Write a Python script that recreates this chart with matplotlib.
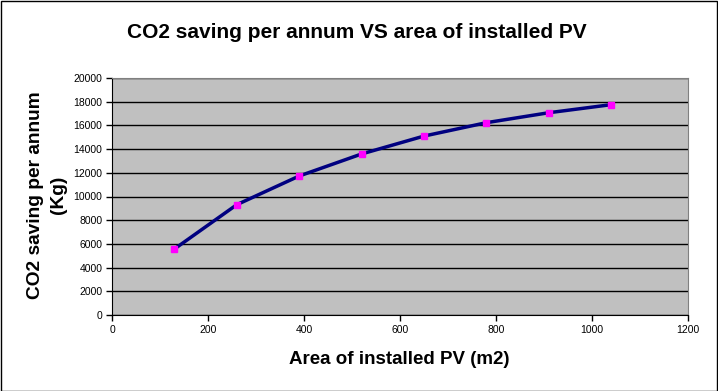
import matplotlib
matplotlib.use("Agg")
import matplotlib.pyplot as plt
from matplotlib.patches import Rectangle

area_m2 = [130, 260, 390, 520, 650, 780, 910, 1040]
co2_saving_kg = [5570, 9310, 11730, 13590, 15100, 16230, 17070, 17750]
x_ticks = [0, 200, 400, 600, 800, 1000, 1200]
y_ticks = list(range(0, 20001, 2000))

plt.rcParams['font.family'] = ['Liberation Sans', 'DejaVu Sans']

fig = plt.figure(figsize=(7.18, 3.91), dpi=100)
W, H = 718, 391
left, right, top, bottom = 112, 688, 78, 315
ax = fig.add_axes([left / W, 1 - bottom / H, (right - left) / W, (bottom - top) / H])
ax.set_facecolor('#C0C0C0')
ax.set_xlim(0, 1200)
ax.set_ylim(0, 20000)
ax.set_xticks(x_ticks)
ax.set_yticks(y_ticks)
ax.tick_params(axis='both', labelsize=7.5, direction='out', length=4, width=1, color='black', pad=3)
ax.yaxis.grid(True, color='black', linewidth=1)
ax.set_axisbelow(True)
for s in ['top', 'right']:
    ax.spines[s].set_color('#808080')
for s in ['left', 'bottom']:
    ax.spines[s].set_color('black')

ax.plot(area_m2, co2_saving_kg, color='#000080', linewidth=2.5, zorder=3)
ax.plot(area_m2, co2_saving_kg, linestyle='none', marker='s', markersize=5,
        color='#FF00FF', zorder=4)

fig.text(357 / W, 1 - 32 / H, 'CO2 saving per annum VS area of installed PV',
         ha='center', va='center', fontsize=15, fontweight='bold')
fig.text(399 / W, 1 - 360 / H, 'Area of installed PV (m2)',
         ha='center', va='center', fontsize=13.5, fontweight='bold')
fig.text(47 / W, 1 - 195 / H, 'CO2 saving per annum\n(Kg)', rotation=90,
         ha='center', va='center', fontsize=13.8, fontweight='bold',
         multialignment='center', linespacing=1.4)

fig.patches.append(Rectangle((0.5 / W, 0.5 / H), (W - 1.5) / W, (H - 1.5) / H,
                             transform=fig.transFigure, fill=False,
                             edgecolor='black', linewidth=1))

fig.savefig('out.png', dpi=100)
